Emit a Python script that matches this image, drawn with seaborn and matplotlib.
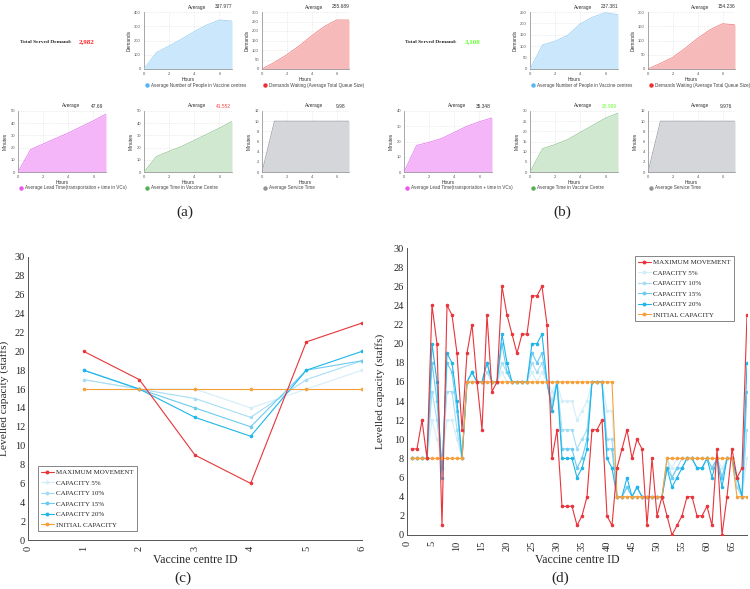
import numpy as np
import pandas as pd
import matplotlib
matplotlib.use('Agg')
from matplotlib import pyplot as plt
from matplotlib.ticker import MultipleLocator
from matplotlib.lines import Line2D
import seaborn as sns

# ---------- data ----------
hours = [0, 1, 2, 3, 4, 5, 6, 7]

# panel (a)
a_total = '2,982'
a_people = [0, 116, 162, 210, 263, 309, 344, 337]
a_queue = [0, 35, 75, 122, 175, 223, 258, 258]
a_lead = [0, 18.3, 23, 27.5, 32, 37, 42, 47.5]
a_vc_time = [0, 12.8, 17, 21, 26, 31, 36, 41.5]
a_service = [0, 10, 10, 10, 10, 10, 10, 10]
a_avgs = ['337.977', '255.689', '47.69', '41.552', '9.98']

# panel (b)
b_total = '3,108'
b_people = [0, 106, 122, 148, 198, 228, 247, 238]
b_queue = [0, 20, 41, 73, 108, 138, 159, 155]
b_lead = [0, 17.4, 19.5, 22, 26, 30, 33, 35.5]
b_vc_time = [0, 11.5, 13.5, 16, 19.5, 23, 26.5, 29]
b_service = [0, 10, 10, 10, 10, 10, 10, 10]
b_avgs = ['237.381', '154.236', '35.348', '28.999', '9.976']

# panel (c)
c_ids = [1, 2, 3, 4, 5, 6]
c_max = [20, 17, 9, 6, 21, 23]
c_cap5 = [17, 16, 16, 14, 16, 18]
c_cap10 = [17, 16, 15, 13, 17, 19]
c_cap15 = [18, 16, 14, 12, 18, 19]
c_cap20 = [18, 16, 13, 11, 18, 20]
c_init = [16, 16, 16, 16, 16, 16]

# panel (d)
d_ids = list(range(1, 69))
d_max = [9, 9, 12, 8, 24, 20, 1, 24, 23, 19, 11, 19, 22, 16, 11, 23, 15, 16, 26, 23,
         21, 19, 21, 21, 25, 25, 26, 22, 8, 11, 3, 3, 3, 1, 2, 4, 11, 11, 12, 2,
         1, 7, 9, 11, 8, 10, 9, 1, 8, 2, 4, 2, 0, 1, 2, 4, 4, 2, 2, 3,
         1, 9, 0, 4, 9, 6, 7, 23]
d_cap20 = [8, 8, 8, 8, 20, 16, 6, 19, 18, 14, 8, 16, 17, 16, 16, 18, 16, 16, 21, 18,
           16, 16, 16, 16, 20, 20, 21, 16, 13, 16, 8, 8, 8, 6, 7, 9, 16, 16, 16, 8,
           7, 4, 4, 6, 4, 5, 4, 4, 4, 4, 4, 7, 5, 6, 7, 8, 8, 7, 7, 8,
           6, 8, 5, 8, 8, 6, 4, 18]
d_cap15 = [8, 8, 8, 8, 18, 14, 7, 18, 17, 13, 8, 16, 17, 16, 16, 18, 16, 16, 20, 17,
           16, 16, 16, 16, 19, 18, 19, 16, 13, 16, 9, 9, 9, 7, 8, 10, 16, 16, 16, 9,
           9, 4, 4, 5, 4, 5, 4, 4, 4, 4, 4, 7, 6, 7, 7, 8, 8, 7, 7, 8,
           7, 8, 6, 8, 8, 6, 4, 15]
d_cap10 = [8, 8, 8, 8, 15, 12, 7, 15, 15, 11, 8, 16, 16, 16, 16, 17, 16, 16, 18, 17,
           16, 16, 16, 16, 18, 17, 18, 16, 14, 16, 11, 11, 11, 9, 10, 11, 16, 16, 16, 10,
           10, 4, 4, 5, 4, 4, 4, 4, 4, 4, 4, 8, 6, 7, 8, 8, 8, 8, 8, 8,
           7, 8, 6, 8, 8, 5, 4, 11]
d_cap5 = [8, 8, 8, 8, 12, 10, 8, 12, 12, 10, 8, 16, 16, 16, 16, 16, 16, 16, 17, 16,
          16, 16, 16, 16, 17, 16, 17, 16, 15, 16, 14, 14, 14, 12, 13, 14, 16, 16, 16, 13,
          13, 4, 4, 4, 4, 4, 4, 4, 4, 4, 4, 8, 7, 8, 8, 8, 8, 8, 8, 8,
          8, 8, 7, 8, 8, 5, 4, 8]
d_init = [8] * 11 + [16] * 30 + [4] * 10 + [8] * 14 + [4] * 3

series_names = ['Maximum Movement', 'Capacity 5%', 'Capacity 10%',
                'Capacity 15%', 'Capacity 20%', 'Initial Capacity']

# ---------- style ----------
sns.set_theme(style='white')
plt.rcParams['font.family'] = ['Liberation Serif', 'DejaVu Serif']

W, H = 750, 589
fig = plt.figure(figsize=(7.5, 5.89), dpi=100)


def add_px(x0, y0, x1, y1):
    return fig.add_axes([x0 / W, 1 - y1 / H, (x1 - x0) / W, (y1 - y0) / H])


def fig_text(x, y, s, **kw):
    fig.text(x / W, 1 - y / H, s, **kw)


sans = ['Liberation Sans', 'DejaVu Sans']


def mini_chart(box, vals, ymax, ystep, line_c, fill_c, dot_c, ylabel, avg, avg_c, label):
    x0, y0, x1, y1 = box
    ax = add_px(x0, y0, x1, y1)
    df = pd.DataFrame({'Hours': hours, 'val': vals})
    ax.fill_between(df['Hours'], df['val'], color=fill_c, lw=0, zorder=2)
    sns.lineplot(data=df, x='Hours', y='val', ax=ax, color=line_c, lw=0.6, zorder=3)
    ax.set_xlim(0, 7)
    ax.set_ylim(0, ymax)
    ax.set_xticks([0, 2, 4, 6])
    ax.set_yticks(np.arange(0, ymax + 0.1, ystep))
    ax.tick_params(labelsize=3, length=1.2, width=0.4, pad=1, colors='#555555')
    for t in ax.get_xticklabels() + ax.get_yticklabels():
        t.set_family(sans)
    ax.grid(True, ls=(0, (2, 2)), lw=0.4, color='#dddddd', zorder=0)
    for s in ['top', 'right']:
        ax.spines[s].set_visible(False)
    for s in ['left', 'bottom']:
        ax.spines[s].set_color('#888888')
        ax.spines[s].set_linewidth(0.5)
    ax.set_xlabel('Hours', fontsize=3.5, labelpad=1, family=sans, color='#333333')
    ax.set_ylabel(ylabel, fontsize=3.5, labelpad=2, family=sans, color='#333333')
    wid = x1 - x0
    fig_text(x0 + 0.6 * wid, y0 - 5, 'Average', fontsize=3.5, family=sans,
             ha='center', va='center', color='#333333')
    fig_text(x0 + 0.9 * wid, y0 - 5, avg, fontsize=3.5, family=sans,
             ha='center', va='center', color=avg_c)
    ly = y1 + 16
    fig.add_artist(Line2D([(x0 + 2.5) / W], [1 - ly / H], marker='o', ms=3.2,
                          color=dot_c, mec='none', transform=fig.transFigure))
    fig_text(x0 + 7, ly, label, fontsize=3.3, family=sans, ha='left',
             va='center', color='#444444')
    return ax


people_max = [400, 250]
queue_max = [300, 200]
lead_max = [50, 40]
vc_max = [50, 30]


def dashboard(k, xoff, total, total_c, people, queue, lead, vc_time, service, avgs, avg_cols):
    fig_text(xoff + 20 + 10 * k, 42, 'Total Served Demand:', fontsize=3.9, weight='bold',
             ha='left', va='center')
    fig_text(xoff + 79 + 11 * k, 42, total, fontsize=5, weight='bold', color=total_c,
             ha='left', va='center')
    mini_chart((xoff + 144 + 11 * k, 12, xoff + 232 + 11 * k, 69), people, people_max[k],
               [100, 50][k], '#9fd2f5', '#cbe7fb', '#55b5f5', 'Demands', avgs[0],
               avg_cols[0], 'Average Number of People in Vaccine centres')
    mini_chart((xoff + 262 + 11 * k, 12, xoff + 349 + 11 * k, 69), queue, queue_max[k], 50,
               '#f08585', '#f7baba', '#f03030', 'Demands', avgs[1], avg_cols[1],
               'Demands Waiting (Average Total Queue Size)')
    mini_chart((xoff + 18 + 11 * k, 111, xoff + 106 + 11 * k, 172), lead, lead_max[k], 10,
               '#e47ef0', '#f4b6f8', '#ee55ee', 'Minutes', avgs[2], avg_cols[2],
               'Average Lead Time(transportation + time in VCs)')
    mini_chart((xoff + 144 + 11 * k, 111, xoff + 232 + 11 * k, 172), vc_time, vc_max[k],
               [10, 5][k], '#9bcb9b', '#d0e8d0', '#55b055', 'Minutes', avgs[3],
               avg_cols[3], 'Average Time in Vaccine Centre')
    mini_chart((xoff + 262 + 11 * k, 111, xoff + 349 + 11 * k, 172), service, 12, 2,
               '#a0a3a8', '#d4d6da', '#909398', 'Minutes', avgs[4], avg_cols[4],
               'Average Service Time')


dashboard(0, 0, a_total, '#ff2222', a_people, a_queue, a_lead, a_vc_time, a_service, a_avgs,
          ['#333333', '#333333', '#333333', '#ff4444', '#333333'])
dashboard(1, 375, b_total, '#66ff33', b_people, b_queue, b_lead, b_vc_time, b_service, b_avgs,
          ['#333333', '#333333', '#333333', '#66ff33', '#333333'])

fig_text(185, 212, '(a)', fontsize=11, ha='center', va='center')
fig_text(562, 212, '(b)', fontsize=11, ha='center', va='center')

# ---------- line panels ----------
colors = ['#e8343a', '#d3eef9', '#a6ddf4', '#6ccbf0', '#1db6ea', '#f7a03a']


def capacity_panel(box, ids, series, xmax, xstep, xminor, legend_loc, anchor, ylab_x):
    ax = add_px(*box)
    order = [1, 2, 3, 4, 5, 0]
    for i in order:
        df = pd.DataFrame({'id': ids, 'staff': series[i]})
        sns.lineplot(data=df, x='id', y='staff', ax=ax, color=colors[i], lw=0.8,
                     marker='o', ms=1.8, mec=colors[i], zorder=3 + order.index(i))
    ax.set_xlim(0, xmax)
    ax.set_ylim(0, 30)
    ax.set_xticks(np.arange(0, xmax + 0.1, xstep))
    ax.set_yticks(np.arange(0, 31, 2))
    ax.xaxis.set_minor_locator(MultipleLocator(xminor))
    ax.yaxis.set_minor_locator(MultipleLocator(0.5))
    ax.tick_params(axis='both', which='major', direction='in', length=3, width=0.6,
                   labelsize=7.5, pad=2)
    ax.tick_params(axis='both', which='minor', direction='in', length=1.5, width=0.4)
    ax.tick_params(axis='x', labelrotation=90, pad=4)
    for s in ['top', 'right']:
        ax.spines[s].set_visible(False)
    for s in ['left', 'bottom']:
        ax.spines[s].set_color('#555555')
        ax.spines[s].set_linewidth(0.7)
    ax.set_xlabel('Vaccine centre ID', fontsize=8.5, labelpad=2)
    ax.set_ylabel('Levelled capacity (staffs)', fontsize=8.2)
    ax.yaxis.set_label_coords(ylab_x, 0.5)
    handles = [Line2D([], [], color=colors[i], lw=0.8, marker='o', ms=1.8)
               for i in range(6)]
    labels = [n.upper() for n in series_names]
    leg = ax.legend(handles, labels, loc=legend_loc, bbox_to_anchor=anchor,
                    fontsize=5.0, frameon=True, fancybox=False, handlelength=1.8,
                    handletextpad=0.4, labelspacing=0.68, borderpad=0.45,
                    borderaxespad=0)
    leg.get_frame().set_edgecolor('#666666')
    leg.get_frame().set_linewidth(0.7)
    return ax


capacity_panel((28, 257, 362, 540), c_ids,
               [c_max, c_cap5, c_cap10, c_cap15, c_cap20, c_init],
               6, 1, 0.2, 'lower left', (10 / 334, 9 / 283), -0.056)
capacity_panel((407, 248, 747, 535), d_ids,
               [d_max, d_cap5, d_cap10, d_cap15, d_cap20, d_init],
               68, 5, 1, 'upper right', (327 / 340, 1 - 8 / 287), -0.066)

fig_text(183, 578, '(c)', fontsize=11, ha='center', va='center')
fig_text(560, 578, '(d)', fontsize=11, ha='center', va='center')

fig.savefig('out.png', dpi=100)
